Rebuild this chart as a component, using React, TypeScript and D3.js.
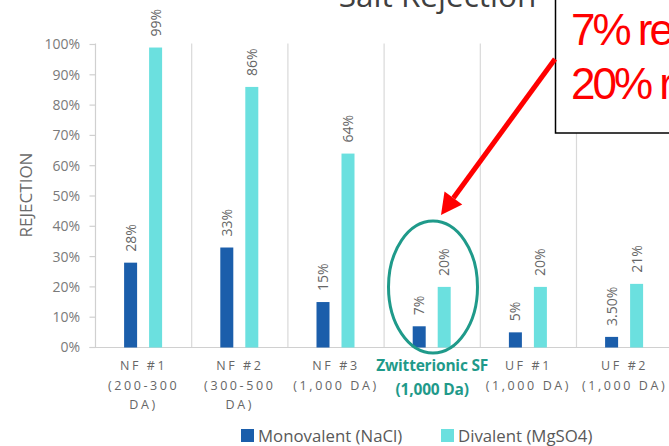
import React from "react";
import * as d3 from "d3";

// Membrane categories (label lines) and rejection values in percent
const categories = ["NF #1", "NF #2", "NF #3", "Zwitterionic SF", "UF #1", "UF #2"];
const categoryLines = [
  ["NF #1", "(200-300", "DA)"],
  ["NF #2", "(300-500", "DA)"],
  ["NF #3", "(1,000 DA)"],
  ["Zwitterionic SF", "(1,000 Da)"],
  ["UF #1", "(1,000 DA)"],
  ["UF #2", "(1,000 DA)"],
];
const monovalent = [28, 33, 15, 7, 5, 3.5];
const divalent = [99, 86, 64, 20, 20, 21];
const monovalentLabels = ["28%", "33%", "15%", "7%", "5%", "3.50%"];
const divalentLabels = ["99%", "86%", "64%", "20%", "20%", "21%"];
const seriesNames = ["Monovalent (NaCl)", "Divalent (MgSO4)"];
const yTicks = [0, 10, 20, 30, 40, 50, 60, 70, 80, 90, 100];
const calloutLines = ["7% rejection", "20% rejection"];

const W = 669;
const H = 446;
const COLORS = ["#1b5eab", "#6be0df"];
const TEAL = "#1f9a8a";
const FONT = "'Open Sans', 'Noto Sans', sans-serif";

export default function App() {
  const left = 95.5;
  const bottom = 347.5;
  const top = 44.5;
  const x0 = d3.scaleBand<string>().domain(categories).range([left, left + 6 * 96.2]).padding(0);
  const bw = x0.bandwidth();
  const x1 = d3
    .scaleBand<string>()
    .domain(seriesNames)
    .range([bw / 2 - 25.5, bw / 2 + 24.5])
    .paddingInner(0.48)
    .paddingOuter(0.24);
  const y = d3.scaleLinear().domain([0, 100]).range([bottom, top]);

  const series = [monovalent, divalent];
  const seriesLabels = [monovalentLabels, divalentLabels];

  // callout arrow geometry
  const ax1 = 555, ay1 = 59, ax2 = 441, ay2 = 215;
  const ang = Math.atan2(ay2 - ay1, ax2 - ax1);
  const headLen = 21, headW = 11;
  const bx = ax2 - headLen * Math.cos(ang);
  const by = ay2 - headLen * Math.sin(ang);
  const px = -Math.sin(ang), py = Math.cos(ang);
  const head = [
    [ax2, ay2],
    [bx + headW * px, by + headW * py],
    [bx - headW * px, by - headW * py],
  ];

  return (
    <svg
      width={W}
      height={H}
      style={{ position: "absolute", left: 0, top: 0, background: "#fff" }}
      fontFamily={FONT}
    >
      <rect width={W} height={H} fill="#fff" />
      {/* title */}
      <text x={437.5} y={7} textAnchor="middle" fontSize={31.5} fill="#404040">
        Salt Rejection
      </text>

      {/* category separators */}
      {categories.map((c) => (
        <line
          key={"sep" + c}
          x1={(x0(c) as number) + bw}
          x2={(x0(c) as number) + bw}
          y1={top - 1}
          y2={bottom}
          stroke="#d9d9d9"
          strokeWidth={1.2}
        />
      ))}
      {/* y axis */}
      <line x1={left} x2={left} y1={top - 1} y2={bottom} stroke="#d0d0d0" strokeWidth={1.2} />
      {yTicks.map((t) => (
        <g key={"yt" + t}>
          <line x1={left - 6} x2={left} y1={y(t)} y2={y(t)} stroke="#d0d0d0" strokeWidth={1.2} />
          <text x={80} y={y(t)} dy="0.35em" textAnchor="end" fontSize={14} fill="#7a7a7a">
            {t}%
          </text>
        </g>
      ))}
      <line x1={left - 6} x2={W} y1={bottom} y2={bottom} stroke="#d0d0d0" strokeWidth={1.2} />
      <text
        transform={`translate(31.5,195) rotate(-90)`}
        textAnchor="middle"
        fontSize={17}
        fill="#6a6a6a"
      >
        REJECTION
      </text>

      {/* bars and value labels */}
      {categories.map((c, i) => (
        <g key={"g" + c} transform={`translate(${x0(c)},0)`}>
          {seriesNames.map((s, k) => {
            const v = series[k][i];
            const bx0 = x1(s) as number;
            const cx = bx0 + x1.bandwidth() / 2;
            return (
              <g key={s}>
                <rect x={bx0} y={y(v)} width={x1.bandwidth()} height={bottom - y(v)} fill={COLORS[k]} />
                <text
                  transform={`translate(${cx + 5},${y(v) - 11}) rotate(-90)`}
                  fontSize={14}
                  fill="#666"
                >
                  {seriesLabels[k][i]}
                </text>
              </g>
            );
          })}
        </g>
      ))}

      {/* category labels */}
      {categories.map((c, i) => {
        const cx = (x0(c) as number) + bw / 2;
        const special = i === 3;
        return (
          <text
            key={"cl" + c}
            textAnchor="middle"
            fontSize={special ? 15.5 : 12.5}
            fontWeight={special ? 700 : 400}
            letterSpacing={special ? -0.2 : 2.6}
            fill={special ? TEAL : "#666"}
          >
            {categoryLines[i].map((ln, j) => (
              <tspan key={j} x={cx} y={special ? 370.5 + j * 24 : 370 + j * 19.5}>
                {ln}
              </tspan>
            ))}
          </text>
        );
      })}

      {/* legend */}
      {seriesNames.map((s, k) => {
        const lx = k === 0 ? 241 : 441;
        return (
          <g key={"lg" + s}>
            <rect x={lx} y={429} width={13} height={13} fill={COLORS[k]} />
            <text x={lx + 17} y={442} fontSize={16.8} fill="#595959">
              {s}
            </text>
          </g>
        );
      })}

      {/* highlight ellipse */}
      <ellipse cx={433} cy={287} rx={44.5} ry={66} fill="none" stroke={TEAL} strokeWidth={3} />

      {/* callout */}
      <rect x={555.5} y={-5} width={130} height={138} fill="#fff" stroke="#000" strokeWidth={1.5} />
      <text fontSize={44} fill="#ff0000" fontFamily="'Liberation Sans', Arial, sans-serif" letterSpacing={-3}>
        {calloutLines.map((ln, j) => (
          <tspan key={j} x={571} y={45 + j * 54}>
            {ln}
          </tspan>
        ))}
      </text>
      <line x1={ax1} y1={ay1} x2={bx} y2={by} stroke="#ff0000" strokeWidth={5} />
      <polygon points={head.map((p) => p.join(",")).join(" ")} fill="#ff0000" />
    </svg>
  );
}
